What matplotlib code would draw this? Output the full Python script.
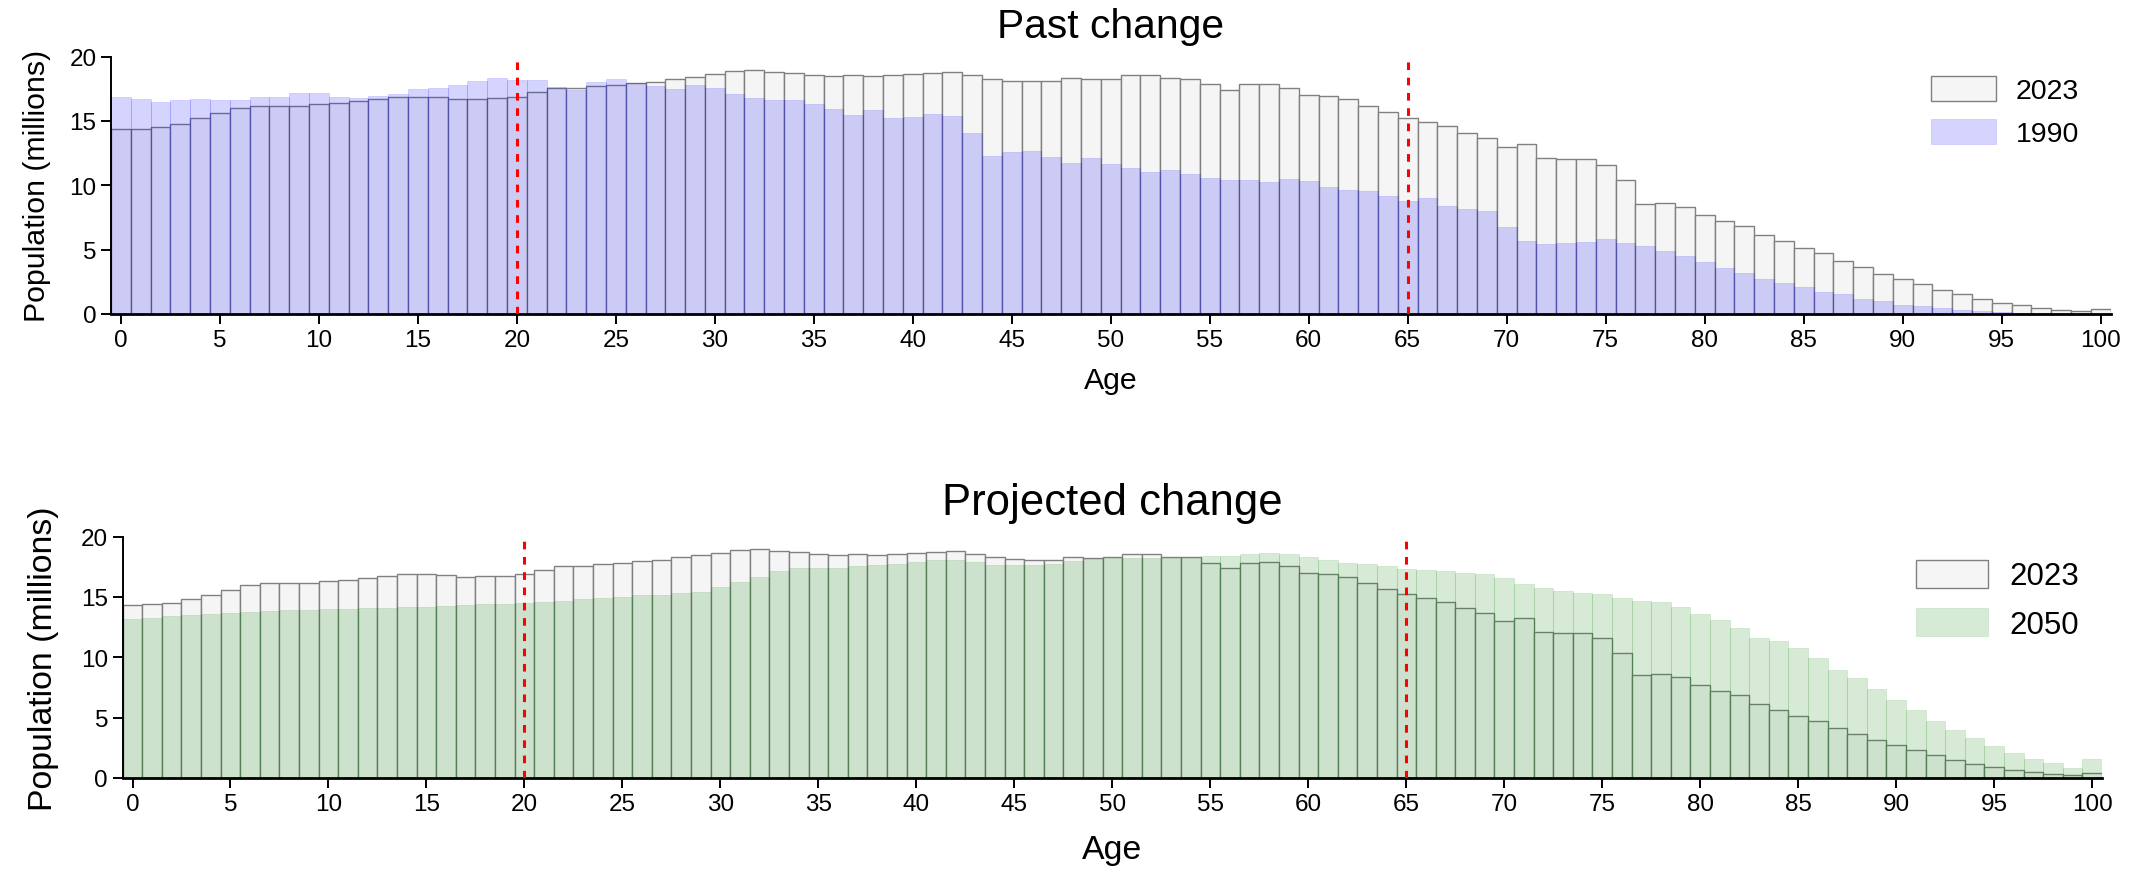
import numpy as np
import matplotlib
matplotlib.use('Agg')
import matplotlib.pyplot as plt

plt.rcParams['font.family'] = ['Liberation Sans', 'DejaVu Sans']

ages = list(range(101))

pop_2023 = [14.36, 14.4, 14.5, 14.8, 15.2, 15.6, 16.0, 16.13, 16.2, 16.15,
            16.34, 16.4, 16.57, 16.7, 16.9, 16.9, 16.83, 16.68, 16.73, 16.78,
            16.88, 17.25, 17.6, 17.58, 17.7, 17.8, 17.95, 18.05, 18.3, 18.44,
            18.68, 18.9, 18.94, 18.8, 18.7, 18.55, 18.52, 18.6, 18.52, 18.55,
            18.68, 18.7, 18.8, 18.57, 18.29, 18.13, 18.08, 18.1, 18.31, 18.23,
            18.29, 18.6, 18.55, 18.31, 18.29, 17.84, 17.43, 17.84, 17.9, 17.53,
            16.99, 16.94, 16.68, 16.18, 15.69, 15.22, 14.9, 14.62, 14.05, 13.64,
            12.99, 13.25, 12.13, 12.05, 12.05, 11.61, 10.39, 8.57, 8.6, 8.34,
            7.71, 7.25, 6.86, 6.16, 5.66, 5.12, 4.7, 4.13, 3.64, 3.14,
            2.7, 2.31, 1.9, 1.53, 1.17, 0.88, 0.7, 0.47, 0.34, 0.23, 0.39]

pop_1990 = [16.9, 16.7, 16.5, 16.6, 16.7, 16.6, 16.65, 16.86, 16.83, 17.2,
            17.14, 16.83, 16.75, 16.93, 17.1, 17.48, 17.53, 17.8, 18.1, 18.34,
            18.2, 18.18, 17.66, 17.4, 18.03, 18.26, 17.95, 17.7, 17.48, 17.8,
            17.56, 17.09, 16.78, 16.62, 16.62, 16.31, 15.92, 15.45, 15.84, 15.22,
            15.32, 15.53, 15.38, 14.05, 12.26, 12.57, 12.65, 12.18, 11.71, 12.1,
            11.64, 11.32, 11.01, 11.17, 10.86, 10.55, 10.39, 10.39, 10.23, 10.47,
            10.31, 9.84, 9.61, 9.53, 9.14, 8.78, 8.99, 8.36, 8.13, 7.97,
            6.73, 5.64, 5.4, 5.48, 5.56, 5.79, 5.48, 5.25, 4.86, 4.47,
            4.0, 3.61, 3.22, 2.75, 2.44, 2.13, 1.74, 1.58, 1.19, 1.04,
            0.73, 0.65, 0.49, 0.34, 0.23, 0.16, 0.1, 0.08, 0.05, 0.03, 0.03]

pop_2050 = [13.17, 13.25, 13.42, 13.53, 13.58, 13.67, 13.75, 13.83, 13.91, 13.91,
            14.0, 14.03, 14.08, 14.11, 14.16, 14.19, 14.25, 14.33, 14.41, 14.41,
            14.5, 14.58, 14.66, 14.83, 14.91, 14.99, 15.16, 15.16, 15.33, 15.41,
            15.82, 16.24, 16.65, 17.15, 17.37, 17.4, 17.4, 17.57, 17.65, 17.73,
            17.9, 18.06, 18.06, 17.9, 17.65, 17.65, 17.65, 17.73, 17.98, 18.15,
            18.23, 18.23, 18.23, 18.23, 18.23, 18.4, 18.4, 18.56, 18.64, 18.56,
            18.31, 18.06, 17.81, 17.73, 17.57, 17.32, 17.23, 17.15, 16.98, 16.9,
            16.57, 16.07, 15.74, 15.49, 15.33, 15.24, 14.91, 14.66, 14.58, 14.16,
            13.58, 13.08, 12.42, 11.59, 11.34, 10.76, 9.93, 8.94, 8.27, 7.36,
            6.45, 5.62, 4.7, 3.96, 3.29, 2.63, 2.05, 1.55, 1.22, 0.8, 1.55]

fig = plt.figure(figsize=(21.34, 8.7), dpi=100)
ax1 = fig.add_axes([0.052, 0.638, 0.937, 0.2957])
ax2 = fig.add_axes([0.0575, 0.1046, 0.9275, 0.2774])


def draw(ax, other, other_label, color, alpha, fs, pads, leg_anchor, spacing):
    ax.bar(ages, pop_2023, width=1.0, color='#f5f5f5', edgecolor='#808080',
           linewidth=1.0, label='2023', zorder=1)
    ax.bar(ages, other, width=1.0, color=color, alpha=alpha, edgecolor=color,
           linewidth=0.5, label=other_label, zorder=2)
    for v in (20, 65):
        ax.plot([v, v], [0, 20], color='red', linestyle=(0, (2.5, 2.5)),
                linewidth=2.2, zorder=3)
    ax.set_xlim(-0.5, 100.5)
    ax.set_ylim(0, 20)
    ax.set_xticks(range(0, 101, 5))
    ax.set_yticks(range(0, 21, 5))
    for s in ('top', 'right'):
        ax.spines[s].set_visible(False)
    ax.spines['left'].set_linewidth(1.4)
    ax.spines['bottom'].set_linewidth(2.0)
    ax.tick_params(axis='both', length=7, width=1.4, labelsize=fs['tick'])
    ax.set_xlabel('Age', fontsize=fs['label'], labelpad=pads[0])
    ax.set_ylabel('Population (millions)', fontsize=fs['label'],
                  labelpad=pads[1])
    ax.legend(loc='upper left', bbox_to_anchor=leg_anchor, frameon=False,
              borderpad=0, borderaxespad=0, handletextpad=0.7,
              fontsize=fs['legend'], handlelength=2.3, handleheight=1.0,
              labelspacing=spacing)


draw(ax1, pop_1990, '1990', 'blue', 0.17,
     {'tick': 17.5, 'label': 21.8, 'legend': 20.5}, (11, 13),
     (0.91, 0.925), 0.5)
ax1.set_title('Past change', fontsize=29.3, pad=14)

draw(ax2, pop_2050, '2050', 'green', 0.16,
     {'tick': 17.5, 'label': 24.4, 'legend': 22.5}, (14, 15.5),
     (0.906, 0.905), 0.55)
ax2.set_title('Projected change', fontsize=31.4, pad=16)

fig.savefig('out.png', dpi=100)
